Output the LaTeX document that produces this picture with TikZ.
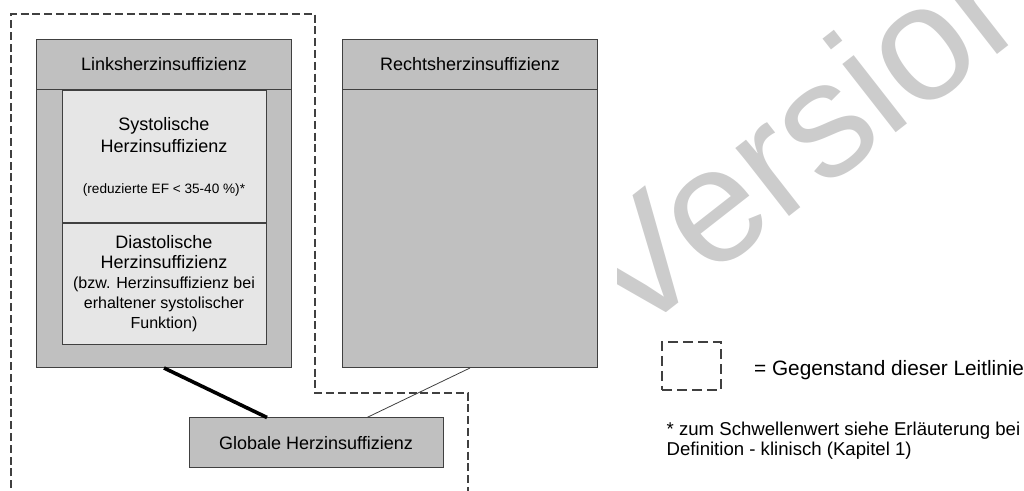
\documentclass[tikz,border=0pt]{standalone}
\usepackage{fontspec}
\setmainfont{Liberation Sans}
\usetikzlibrary{positioning}
\definecolor{boxcol}{RGB}{192, 192, 192}
\definecolor{subcol}{RGB}{230, 230, 230}
\definecolor{linecol}{RGB}{64, 64, 64}
\definecolor{markcol}{RGB}{204, 204, 204}
\tikzset{
  blk/.style    = {draw=linecol, line width=0.5pt, align=center,
                   inner sep=2pt, font=\fontsize{9}{10}\selectfont},
  outer/.style  = {blk, fill=boxcol, anchor=north west,
                   minimum width=127.5pt, minimum height=164pt},
  head/.style   = {blk, fill=boxcol, anchor=north,
                   minimum width=127.5pt, minimum height=25pt},
  sub/.style    = {blk, fill=subcol, minimum width=102pt},
  glob/.style   = {blk, fill=boxcol, minimum width=127pt, minimum height=25pt},
  % what the guideline covers
  scopeline/.style = {draw=linecol, line width=0.7pt,
                      dash pattern=on 4pt off 1.9pt},
  legbox/.style = {draw=linecol, line width=0.7pt, dash pattern=on 5pt off 2.5pt,
                   minimum width=29.5pt, minimum height=24pt, inner sep=0pt},
  strong/.style = {draw=black, line width=1.8pt},
  weak/.style   = {draw=linecol, line width=0.4pt},
  note/.style   = {align=left, inner sep=0pt},
}
\newcommand{\remark}{\fontsize{8}{10}\selectfont}

\begin{document}
\begin{tikzpicture}[x=0.5pt, y=-0.5pt]
  \useasboundingbox (0,0) rectangle (1024,491);

  %% ---------------- watermark ----------------
  \begin{scope}
    \clip (617,0) rectangle (1024,312);
    \node[text=markcol, rotate=38, anchor=base west, inner sep=0pt,
          font=\fontsize{82}{82}\selectfont] (mark) at (629,342) {Version};
  \end{scope}

  %% ---------------- scope of the guideline ----------------
  \draw[scopeline] (11,500) |- (315,14) -- (315,393) -| (468,500);

  %% ---------------- left heart ----------------
  \node[outer] (links) at (36,39) {};
  \node[head] (lhead) at (links.north) {Linksherzinsuffizienz};
  \node[sub, below=0pt of lhead, minimum height=66pt,
        font=\fontsize{9}{11}\selectfont] (sys)
       {Systolische\\Herzinsuffizienz\\[9.5pt]
        {\fontsize{6.8}{8}\selectfont (reduzierte EF < 35-40 \%)*}};
  \node[sub, below=0pt of sys, minimum height=60.5pt] (dia)
       {Diastolische\\Herzinsuffizienz\\{\remark (bzw. Herzinsuffizienz bei}\\
        {\remark erhaltener systolischer}\\{\remark Funktion)}};

  %% ---------------- right heart ----------------
  \node[outer, right=25pt of links] (rechts) {};
  \node[head] (rhead) at (rechts.north) {Rechtsherzinsuffizienz};

  %% ---------------- global ----------------
  \node[glob] (glob) at (316,443) {Globale Herzinsuffizienz};

  \draw[strong] (links.south) -- ([xshift=-24.5pt]glob.north);
  \draw[weak] (rechts.south) -- ([xshift=25.5pt]glob.north);

  %% ---------------- legend ----------------
  \node[legbox] (leg) at (691.5,366) {};
  \node[note, right=16pt of leg, yshift=-2pt,
        font=\fontsize{10.4}{12}\selectfont] (legtext)
       {= Gegenstand dieser Leitlinie};
  \node[note, below=15.5pt of leg.south west, anchor=north west, xshift=2.5pt,
        font=\fontsize{9.3}{10}\selectfont] (fn)
       {* zum Schwellenwert siehe Erläuterung bei\\
        Definition - klinisch (Kapitel 1)};

\end{tikzpicture}
\end{document}
